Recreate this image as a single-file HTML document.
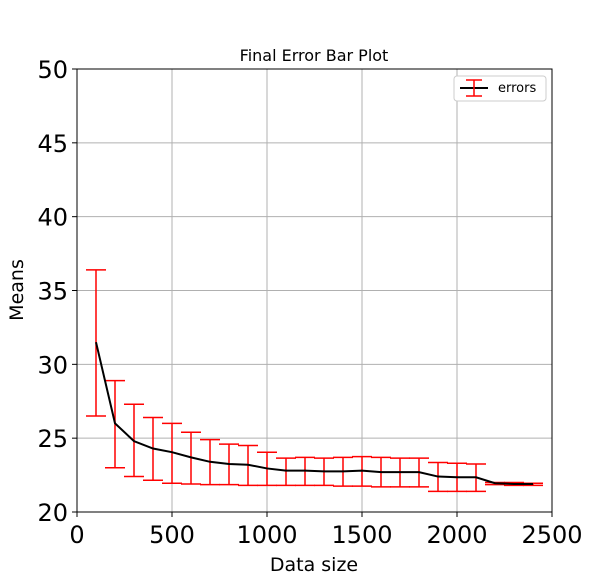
<!DOCTYPE html>
<html><head><meta charset="utf-8"><style>
body{margin:0;background:#fff;}
svg{font-family:"DejaVu Sans","Liberation Sans",sans-serif;}
</style></head><body>
<svg id="chart" width="614" height="575">
<text x="314" y="61" font-size="16" text-anchor="middle">Final Error Bar Plot</text>
<g id="grid"></g><g id="ticks"></g><g id="series"></g>
<rect x="77" y="69" width="475" height="443" fill="none" stroke="#000" stroke-width="1"/>
<text x="314" y="571" font-size="19" text-anchor="middle">Data size</text>
<text transform="translate(23,290) rotate(-90)" font-size="19" text-anchor="middle">Means</text>
<g>
<rect x="454" y="76" width="92" height="25" rx="3" fill="#fff" stroke="#ccc"/>
<line x1="460" y1="88" x2="488" y2="88" stroke="#000" stroke-width="2"/>
<line x1="474" y1="80" x2="474" y2="96" stroke="red" stroke-width="1.5"/>
<line x1="466" y1="80" x2="482" y2="80" stroke="red" stroke-width="1.5"/>
<line x1="466" y1="96" x2="482" y2="96" stroke="red" stroke-width="1.5"/>
<text x="498" y="92" font-size="13">errors</text>
</g>
</svg>
<script>
const sizes=[100,200,300,400,500,600,700,800,900,1000,1100,1200,1300,1400,1500,1600,1700,1800,1900,2000,2100,2200,2300,2400];
const means=[31.5,26.0,24.8,24.3,24.05,23.7,23.4,23.25,23.2,22.95,22.8,22.8,22.75,22.75,22.8,22.7,22.7,22.7,22.4,22.35,22.35,21.95,21.9,21.9];
const upper=[36.4,28.9,27.3,26.4,26.0,25.4,24.9,24.6,24.5,24.05,23.65,23.7,23.65,23.7,23.75,23.7,23.65,23.65,23.35,23.3,23.25,22.0,22.0,21.95];
const lower=[26.5,23.0,22.4,22.15,21.95,21.9,21.85,21.85,21.8,21.8,21.8,21.8,21.8,21.75,21.75,21.7,21.7,21.7,21.4,21.4,21.4,21.85,21.8,21.8];
const xTicks=[0,500,1000,1500,2000,2500];
const yTicks=[20,25,30,35,40,45,50];
const NS="http://www.w3.org/2000/svg";
const X=v=>77+v/2500*475, Y=v=>512-(v-20)/30*443;
function mk(p,t,a){const e=document.createElementNS(NS,t);for(const k in a)e.setAttribute(k,a[k]);p.appendChild(e);return e;}
const grid=document.getElementById('grid'),ticks=document.getElementById('ticks'),ser=document.getElementById('series');
xTicks.forEach(v=>{
 if(v>0&&v<2500){const g=mk(grid,'line',{x1:X(v),x2:X(v),y1:69,y2:512,stroke:'#b0b0b0','stroke-width':1});
 }
 mk(ticks,'line',{x1:X(v),x2:X(v),y1:512,y2:517,stroke:'#000'});
 const t=mk(ticks,'text',{x:X(v),y:543,'font-size':24,'text-anchor':'middle'});t.textContent=v;
 
});
yTicks.forEach(v=>{
 if(v>20&&v<50){const g=mk(grid,'line',{x1:77,x2:552,y1:Y(v),y2:Y(v),stroke:'#b0b0b0','stroke-width':1});
 }
 mk(ticks,'line',{x1:72,x2:77,y1:Y(v),y2:Y(v),stroke:'#000'});
 const t=mk(ticks,'text',{x:68,y:Y(v)+9,'font-size':24,'text-anchor':'end'});t.textContent=v;
 
});
sizes.forEach((s,i)=>{
 const g=mk(ser,'g',{stroke:'red','stroke-width':1.5});
 
 mk(g,'line',{x1:X(s),x2:X(s),y1:Y(upper[i]),y2:Y(lower[i])});
 mk(g,'line',{x1:X(s)-10,x2:X(s)+10,y1:Y(upper[i]),y2:Y(upper[i])});
 mk(g,'line',{x1:X(s)-10,x2:X(s)+10,y1:Y(lower[i]),y2:Y(lower[i])});
});
const pl=mk(ser,'polyline',{points:sizes.map((s,i)=>X(s)+','+Y(means[i])).join(' '),fill:'none',stroke:'#000','stroke-width':2});

</script>
</body></html>
